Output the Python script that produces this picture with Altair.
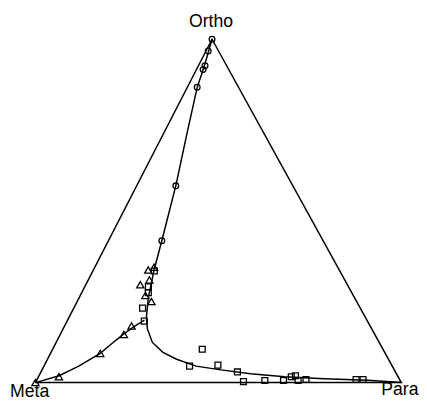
import altair as alt
import pandas as pd

# Ternary compositions (percent): ortho, meta, para
circ_o = [100, 96.6, 92.3, 91.2, 86.0, 57.3, 41.3]
circ_m = [0, 2.8, 5.9, 7.0, 11.3, 32.0, 44.1]
circ_p = [0, 0.6, 1.8, 1.8, 2.7, 10.7, 14.6]

tri_o = [33.6, 32.8, 29.9, 28.5, 25.4, 23.6, 16.5, 14.0, 8.5, 1.7, 0]
tri_m = [50.2, 52.2, 53.4, 56.6, 56.8, 56.1, 65.2, 68.6, 77.9, 92.7, 100]
tri_p = [16.2, 15.0, 16.7, 14.9, 17.8, 20.3, 18.3, 17.4, 13.6, 5.6, 0]

sq_o = [32.5, 27.9, 26.2, 21.7, 17.9, 9.7, 4.8, 5.1, 3.1, 0.3, 0.6, 0.6, 1.7, 2.0, 0.6, 0.9, 0.9, 0.9]
sq_m = [50.8, 54.7, 55.6, 59.6, 61.0, 49.4, 55.4, 47.5, 43.2, 43.0, 37.0, 31.9, 29.2, 27.9, 27.9, 25.6, 11.9, 10.0]
sq_p = [16.8, 17.4, 18.2, 18.8, 21.1, 40.9, 39.8, 47.4, 53.7, 56.7, 62.4, 67.5, 69.1, 70.1, 71.5, 73.5, 87.2, 89.1]

# Curve from Ortho through the junction to Para
c1_o = [100, 92.0, 86.0, 71.8, 57.3, 41.3, 32.8, 24.8, 19.1, 15.7, 11.7, 8.8, 6.8, 4.8, 3.7, 2.6, 1.7, 1.1, 0.7, 0]
c1_p = [0, 1.7, 2.7, 6.6, 10.7, 14.6, 16.6, 18.9, 21.1, 23.0, 26.3, 30.6, 35.3, 41.6, 48.9, 57.5, 67.3, 78.3, 90.5, 100]
# Branch from the junction to Meta
c2_o = [18.2, 16.2, 14.2, 11.4, 8.5, 4.8, 2.0, 0]
c2_p = [21.0, 19.0, 17.3, 15.4, 13.6, 9.5, 5.5, 0]

vertex_names = ["Ortho", "Meta", "Para"]
vertex_o = [100, 0, 0]
vertex_p = [0, 0, 100]

APEX_X = 0.4826  # horizontal position of Ortho apex


def to_xy(o, p):
    return [pp / 100 + APEX_X * oo / 100 for oo, pp in zip(o, p)], [oo / 100 for oo in o]


def df_points(o, p):
    x, y = to_xy(o, p)
    return pd.DataFrame({"x": x, "y": y})


def df_line(o, p, name):
    x, y = to_xy(o, p)
    return pd.DataFrame({"x": x, "y": y, "idx": list(range(len(x))), "g": name})


frame = df_line([0, 0, 100, 0], [0, 100, 0, 0], "frame")
curves = pd.concat([frame, df_line(c1_o, c1_p, "c1"), df_line(c2_o, c2_p, "c2")])

xs = alt.Scale(domain=[-0.075067, 1.048257], nice=False, zero=False)
ys = alt.Scale(domain=[-0.057143, 1.08], nice=False, zero=False)
X = alt.X("x:Q", scale=xs, axis=None)
Y = alt.Y("y:Q", scale=ys, axis=None)

lines = alt.Chart(curves).mark_line(color="black", strokeWidth=1.5).encode(
    x=X, y=Y, detail="g:N", order="idx:Q"
)

circles = alt.Chart(df_points(circ_o, circ_p)).mark_point(
    shape="circle", filled=False, color="black", size=34, strokeWidth=1.3, opacity=1
).encode(x=X, y=Y)

tris = alt.Chart(df_points(tri_o, tri_p)).mark_point(
    shape="triangle-up", filled=False, color="black", size=55, strokeWidth=1.3, opacity=1
).encode(x=X, y=Y)

squares = alt.Chart(df_points(sq_o, sq_p)).mark_point(
    shape="square", filled=False, color="black", size=36, strokeWidth=1.3, opacity=1
).encode(x=X, y=Y)

vx, vy = to_xy(vertex_o, vertex_p)
lab = pd.DataFrame({"x": vx, "y": vy, "name": vertex_names,
                    "dx": [-1, -6, -1.5], "dy": [-8, 19, 17]})


def label(i):
    return alt.Chart(lab.iloc[[i]]).mark_text(
        font="Liberation Sans", fontSize=18, color="black", baseline="bottom",
        align="center", dx=float(lab.dx[i]), dy=float(lab.dy[i])
    ).encode(x=X, y=Y, text="name:N")


chart = alt.layer(lines, circles, tris, squares, label(0), label(1), label(2)).properties(
    width=419, height=398, padding=0, autosize=alt.AutoSizeParams(type="none")
).configure_view(stroke=None)

chart.save("out.html", embed_options={"renderer": "svg", "actions": False})
